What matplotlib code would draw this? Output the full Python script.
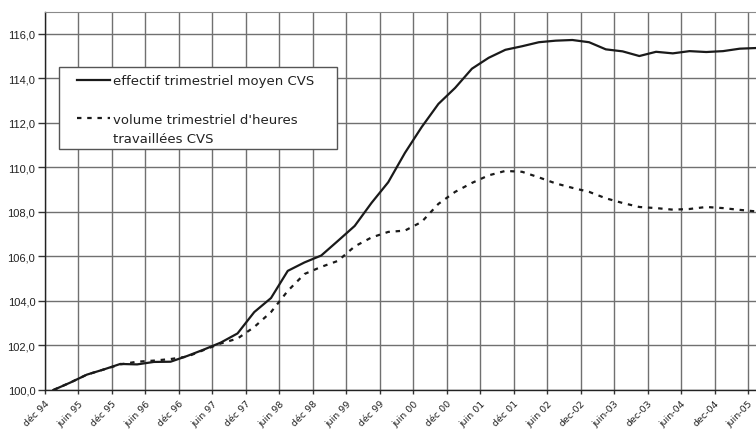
import numpy as np
import matplotlib.pyplot as plt
from matplotlib.lines import Line2D
from matplotlib.patches import Rectangle

# quarterly series, base 100 = first quarter
effectif = [100.0, 100.33, 100.69, 100.92, 101.17, 101.15, 101.26, 101.27, 101.53, 101.82,
            102.13, 102.54, 103.5, 104.13, 105.35, 105.73, 106.04, 106.7, 107.37, 108.4,
            109.33, 110.65, 111.81, 112.85, 113.57, 114.43, 114.92, 115.28, 115.44, 115.62,
            115.69, 115.72, 115.62, 115.3, 115.21, 115.0, 115.19, 115.12, 115.22, 115.18,
            115.22, 115.33, 115.36]
heures = [100.0, 100.33, 100.69, 100.92, 101.15, 101.27, 101.32, 101.39, 101.5, 101.8,
          102.09, 102.31, 102.83, 103.5, 104.45, 105.21, 105.53, 105.8, 106.45, 106.85,
          107.1, 107.16, 107.55, 108.36, 108.9, 109.3, 109.64, 109.84, 109.8, 109.55,
          109.28, 109.08, 108.9, 108.61, 108.4, 108.22, 108.17, 108.1, 108.13, 108.22,
          108.17, 108.09, 108.02]
tick_labels = ['déc 94', 'juin 95', 'déc 95', 'juin 96', 'déc 96', 'juin 97', 'déc 97',
               'juin 98', 'déc 98', 'juin 99', 'déc 99', 'juin 00', 'déc 00', 'juin 01',
               'déc 01', 'juin 02', 'dec-02', 'juin-03', 'dec-03', 'juin-04', 'dec-04',
               'juin-05']
y_ticks = [100, 102, 104, 106, 108, 110, 112, 114, 116]

W, H = 756, 435
fig = plt.figure(figsize=(W / 100, H / 100), dpi=100)
ax = fig.add_axes([45 / W, (H - 391) / H, 711 / W, (391 - 12.5) / H])

x = np.arange(len(effectif))
l1, = ax.plot(x, effectif, color='#1a1a1a', lw=1.6, solid_joinstyle='round')
l2, = ax.plot(x, heures, color='#1a1a1a', lw=1.6, linestyle=(0, (2, 2.6)))

ax.set_xlim(-0.5, 41.97)
ax.set_ylim(100, 117)
ax.set_xticks(np.arange(len(tick_labels)) * 2 - 0.5)
ax.set_xticklabels(tick_labels, rotation=45, ha='right', rotation_mode='anchor',
                   fontsize=6.8, family='DejaVu Sans', color='#222222')
ax.set_yticks(y_ticks)
ax.set_yticklabels([('%.1f' % v).replace('.', ',') for v in y_ticks],
                   fontsize=8, family='Liberation Sans', color='#222222')
ax.tick_params(axis='y', length=5, width=1, pad=2, color='#333333')
ax.tick_params(axis='x', length=3, width=1, pad=3, color='#333333')

ax.grid(True, color='#707070', lw=1)
ax.set_axisbelow(True)
for s in ['left', 'bottom']:
    ax.spines[s].set_color('#222222')
    ax.spines[s].set_linewidth(1)
ax.spines['top'].set_color('#8a8a8a')
ax.spines['right'].set_visible(False)

# legend frame drawn by hand, entries as a legend
fig.patches.append(Rectangle((59.3 / W, 1 - 150 / H), 278 / W, 81.7 / H,
                             transform=fig.transFigure, facecolor='white',
                             edgecolor='#555555', lw=1, zorder=5))
blank = Line2D([], [], color='none')
leg = fig.legend([l1, blank, l2, blank],
                 ['effectif trimestriel moyen CVS', ' ', "volume trimestriel d'heures",
                  'travaillées CVS'],
                 loc='upper left', bbox_to_anchor=(76.7 / W, 1 - 75.5 / H),
                 frameon=False, borderpad=0, borderaxespad=0, handlelength=2.5,
                 handletextpad=0.25, labelspacing=0.47,
                 prop={'family': 'DejaVu Sans', 'size': 9.5})
for t in leg.get_texts():
    t.set_color('#222222')
leg.set_zorder(6)

fig.savefig('out.png', dpi=100)
